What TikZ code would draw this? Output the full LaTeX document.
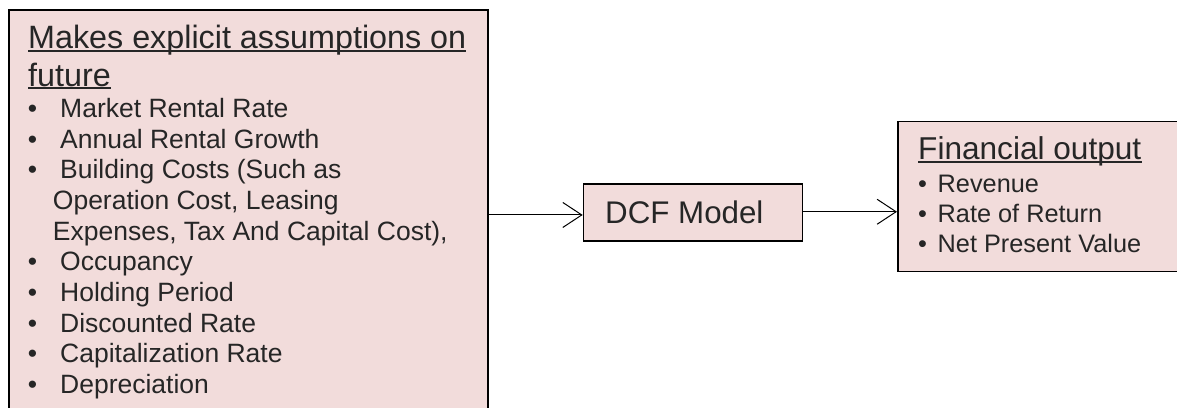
\documentclass[tikz,border=0pt]{standalone}
\usepackage{fontspec}
\setmainfont{Liberation Sans}
\usetikzlibrary{arrows.meta}
\definecolor{boxfill}{HTML}{F2DCDB}
\definecolor{ink}{HTML}{262626}
\tikzset{
  panel/.style={draw=black, line width=1.5bp, fill=boxfill, rectangle, inner sep=0pt, anchor=north west},
  txt/.style={inner sep=0pt, anchor=base west, text=ink},
  dot/.style={inner sep=0pt, anchor=base, text=ink},
  uline/.style={draw=ink, line width=2bp},
  link/.style={draw=black, line width=1bp, -{Straight Barb[length=19bp,width=25bp,line width=1bp]}},
}
\newcommand{\headfont}{\fontsize{32.3bp}{38bp}\selectfont}
\newcommand{\itemfont}{\fontsize{26.5bp}{31bp}\selectfont}
\newcommand{\dcffont}{\fontsize{31.3bp}{37bp}\selectfont}
\newcommand{\outhead}{\fontsize{31.6bp}{37bp}\selectfont}
\newcommand{\outitem}{\fontsize{25.3bp}{30bp}\selectfont}
\begin{document}
\begin{tikzpicture}[x=1bp, y=-1bp]
  \useasboundingbox (0,0) rectangle (1177,407);
  \clip (0,0) rectangle (1177,407);

  % boxes
  \node[panel, minimum width=479bp, minimum height=420bp] (inputs) at (8,9) {};
  \node[panel, minimum width=219bp, minimum height=57bp] (dcf) at (582.7,183) {};
  \node[panel, minimum width=300bp, minimum height=150.2bp] (outputs) at (897,120.5) {};

  % assumptions box text
  \node[txt, font=\headfont] (h1) at (28,48.3) {Makes explicit assumptions on};
  \node[txt, font=\headfont] (h2) at (28,86) {future};
  \draw[uline] ([yshift=-2.4bp]h1.base west) -- ([yshift=-2.4bp]h1.base east);
  \draw[uline] ([yshift=-2.4bp]h2.base west) -- ([yshift=-2.4bp]h2.base east);

  \foreach \t/\y [count=\i] in {
      Market Rental Rate/117.7,
      Annual Rental Growth/148.3,
      Building Costs (Such as/178.9,
      Occupancy/270.8,
      Holding Period/301.4,
      Discounted Rate/332.0,
      Capitalization Rate/362.7,
      Depreciation/393.3}{
    \node[dot, font=\itemfont] (b\i) at (32.5,\y) {•};
    \node[txt, font=\itemfont] (a\i) at (60,\y) {\t};
  }
  \node[txt, font=\itemfont] (c1) at (52.7,209.6) {Operation Cost, Leasing};
  \node[txt, font=\itemfont] (c2) at (52.7,240.2) {Expenses, Tax And Capital Cost),};

  % model box text
  \node[txt, font=\dcffont] (dcftext) at (605,223.3) {DCF Model};

  % output box text
  \node[txt, font=\outhead] (o0) at (918,159.3) {Financial output};
  \draw[uline] ([yshift=-2.4bp]o0.base west) -- ([yshift=-2.4bp]o0.base east);
  \foreach \t/\y [count=\i] in {Revenue/192.7, Rate of Return/222.5, Net Present Value/252.3}{
    \node[dot, font=\outitem] (ob\i) at (922.5,\y) {•};
    \node[txt, font=\outitem] (o\i) at (937.5,\y) {\t};
  }

  % connectors
  \coordinate (in1) at ([yshift=-2.7bp]dcf.west);
  \draw[link] (inputs.east |- in1) -- (in1);
  \coordinate (out1) at ([yshift=0.5bp]dcf.east);
  \draw[link] (out1) -- (outputs.west |- out1);
\end{tikzpicture}
\end{document}
